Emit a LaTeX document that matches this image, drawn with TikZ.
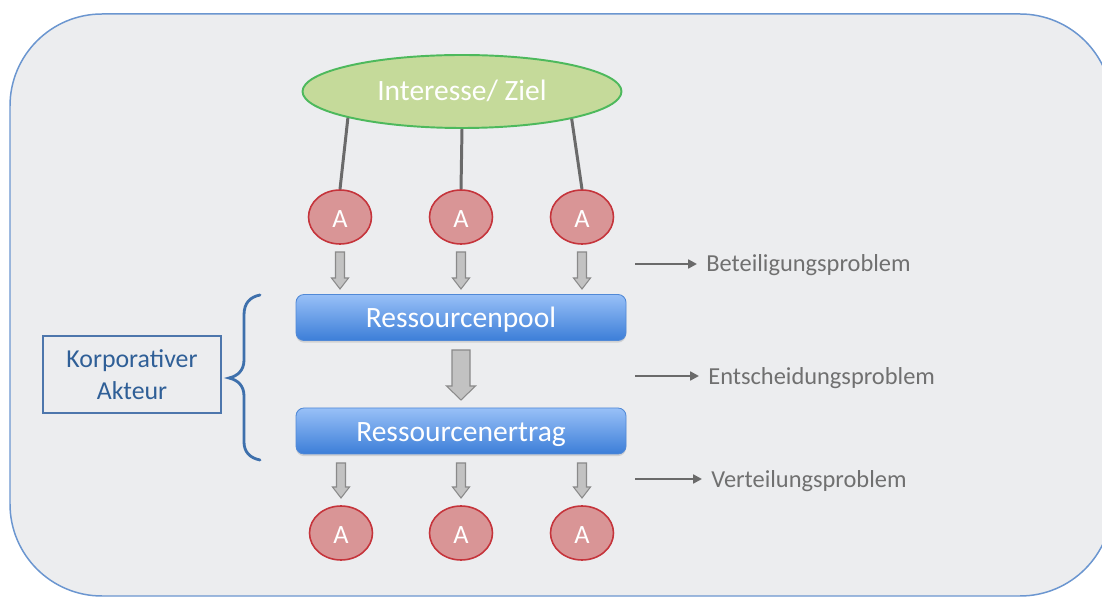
\documentclass[tikz,border=0pt]{standalone}
\usepackage{fontspec}
\setmainfont{Carlito}
\usetikzlibrary{shapes.geometric,arrows.meta,shadows}

% one drawing unit (a "px") of the grid used below
\def\unitpx{0.02cm}

\definecolor{bgfill}{HTML}{ECEDEF}
\definecolor{bgline}{HTML}{6B96D0}
\definecolor{goalfill}{HTML}{C5DA9A}
\definecolor{goalline}{HTML}{4DB95C}
\definecolor{actfill}{HTML}{D99596}
\definecolor{actline}{HTML}{C5343B}
\definecolor{boxtop}{HTML}{98C0F7}
\definecolor{boxbot}{HTML}{3C7ED8}
\definecolor{boxline}{HTML}{5189D6}
\definecolor{blkfill}{HTML}{C2C2C2}
\definecolor{blkline}{HTML}{8A8A8A}
\definecolor{labgray}{HTML}{707070}
\definecolor{linkgray}{HTML}{6A6A6A}
\definecolor{korpblue}{HTML}{2F5F97}
\definecolor{korpline}{HTML}{4D76AC}
\definecolor{bracecol}{HTML}{3E70AC}

% downward block arrow: x, top y, tip y, shaft width, head width, head length
\newcommand\blockdown[6]{%
  \draw[blockarrow] ({#1-#4/2},#2) -- ({#1+#4/2},#2) -- ({#1+#4/2},{#3-#6})
    -- ({#1+#5/2},{#3-#6}) -- (#1,#3) -- ({#1-#5/2},{#3-#6})
    -- ({#1-#4/2},{#3-#6}) -- cycle;}

\tikzset{
  goal/.style={ellipse, draw=goalline, line width=1.1pt, fill=goalfill,
    minimum width=319*\unitpx, minimum height=73*\unitpx, text=white,
    font=\fontsize{16.8}{20}\selectfont, text height=10.8pt, text depth=0pt},
  actor/.style={ellipse, draw=actline, line width=0.9pt, fill=actfill,
    minimum width=63*\unitpx, minimum height=54*\unitpx, inner sep=0pt,
    text=white, font=\fontsize{15}{18}\selectfont, text height=11.6pt, text depth=0pt},
  poolbox/.style={rectangle, rounded corners=8*\unitpx, draw=boxline, line width=0.5pt,
    top color=boxtop, bottom color=boxbot,
    minimum width=330*\unitpx, minimum height=46*\unitpx, text=white,
    font=\fontsize{16.8}{20}\selectfont, text height=11.9pt, text depth=0pt,
    drop shadow={shadow xshift=0pt, shadow yshift=-1.2pt, opacity=0.25}},
  link/.style={draw=linkgray, line width=1.7pt},
  blockarrow/.style={draw=blkline, line width=0.6pt, fill=blkfill, line join=miter},
  probarrow/.style={draw=linkgray, line width=1.4pt,
    -{Triangle[length=5pt, width=5pt]}},
  problabel/.style={anchor=base west, inner xsep=9*\unitpx, inner ysep=0pt,
    text=labgray, font=\fontsize{13.9}{17}\selectfont},
  korpbox/.style={rectangle, draw=korpline, line width=0.8pt,
    minimum width=178*\unitpx, minimum height=77*\unitpx, align=center,
    text=korpblue, font=\fontsize{14.7}{18}\selectfont},
  bracestyle/.style={draw=bracecol, line width=1.6pt, line cap=round}
}

\begin{document}
\begin{tikzpicture}[x=0.02cm, y=-0.02cm]
  \clip (0,0) rectangle (1102,597);
  \fill[white] (0,0) rectangle (1102,597);

  % rounded panel behind everything
  \draw[draw=bgline, line width=0.85pt, fill=bgfill, rounded corners=92*\unitpx]
    (10,14) rectangle (1112,596);

  % common interest and the actors tied to it
  \node[goal] (goal) at (462,91.5) {Interesse/ Ziel};
  \node[actor] (a1) at (340,217) {A};
  \node[actor] (a2) at (461,217) {A};
  \node[actor] (a3) at (582,217) {A};
  \draw[link] (goal.193) -- (a1.north);
  \draw[link] (goal.south) -- (a2.north);
  \draw[link] (goal.346) -- (a3.north);

  % pooled resources and their yield
  \node[poolbox] (pool) at (461,317.5) {Ressourcenpool};
  \node[poolbox] (yield) at (461,431) {Ressourcenertrag};

  % actors receiving the yield
  \node[actor] (b1) at (341,533) {A};
  \node[actor] (b2) at (461,533) {A};
  \node[actor] (b3) at (582,533) {A};

  % flow arrows
  \blockdown{340}{252}{289}{9}{17}{11}
  \blockdown{461}{252}{289}{9}{17}{11}
  \blockdown{582}{252}{289}{9}{17}{11}
  \blockdown{461}{350}{400}{18}{29}{14}
  \blockdown{341}{463}{498}{9}{17}{11}
  \blockdown{461}{463}{498}{9}{17}{11}
  \blockdown{582}{463}{498}{9}{17}{11}

  % the three problems
  \node[problabel] (p1) at (697,272) {Beteiligungsproblem};
  \node[problabel] (p2) at (699,385) {Entscheidungsproblem};
  \node[problabel] (p3) at (702,488) {Verteilungsproblem};
  \coordinate (s1) at (635,264);
  \coordinate (s2) at (635,376);
  \coordinate (s3) at (635,479);
  \draw[probarrow] (s1) -- (s1 -| p1.west);
  \draw[probarrow] (s2) -- (s2 -| p2.west);
  \draw[probarrow] (s3) -- (s3 -| p3.west);

  % corporate actor with its brace
  \node[korpbox] (korp) at (132,374.5) {Korporativer\\Akteur};
  \draw[bracestyle] (260,295) .. controls (250,297) and (244,303) .. (244,315)
    -- (244,360) .. controls (244,370) and (238,376) .. (229,378)
    .. controls (238,380) and (244,386) .. (244,396)
    -- (244,442) .. controls (244,452) and (250,458) .. (260,460);
\end{tikzpicture}
\end{document}
